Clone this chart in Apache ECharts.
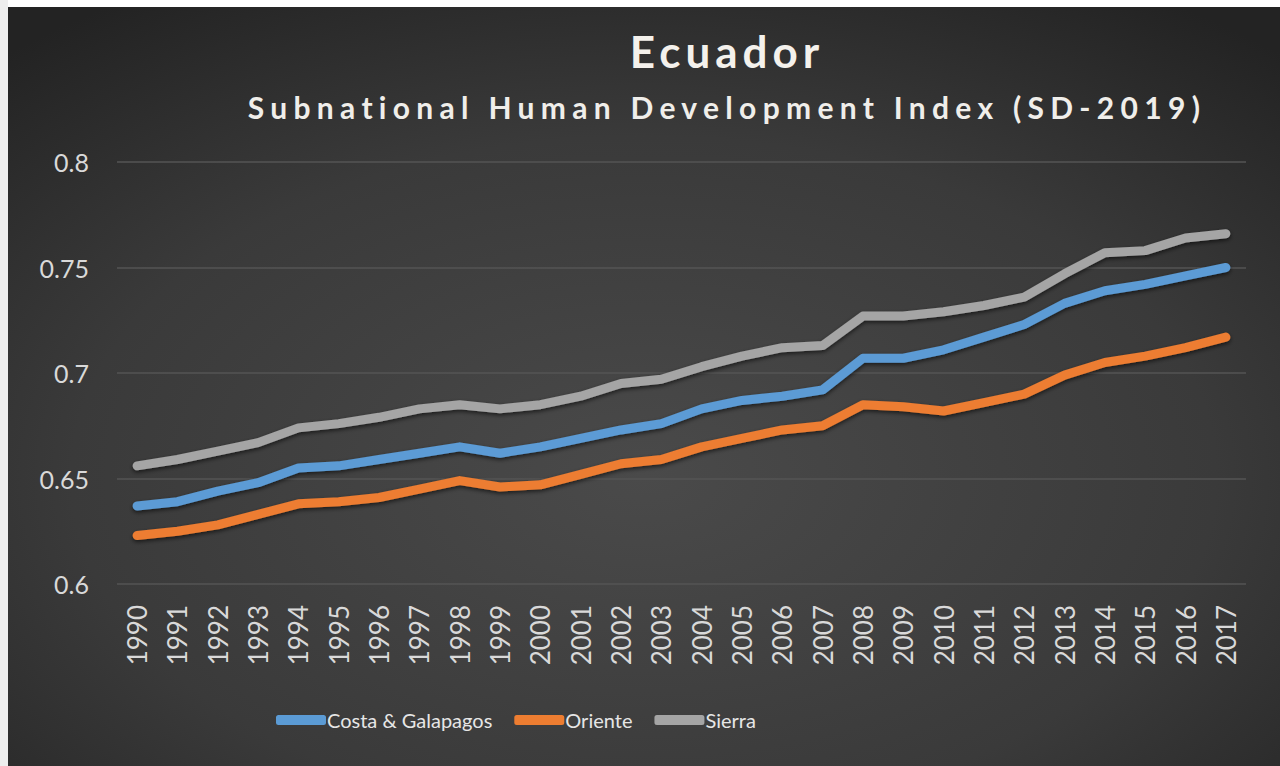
<!DOCTYPE html>
<html>
<head>
<meta charset="utf-8">
<script src="https://cdn.jsdelivr.net/npm/echarts@6/dist/echarts.min.js"></script>
<style>
  html, body { margin: 0; padding: 0; background: #ffffff; width: 1280px; height: 766px; overflow: hidden; }
  #strip { position: absolute; left: 0; top: 0; width: 8px; height: 766px; background: #eeeeee; }
  #chart { position: absolute; left: 8px; top: 7px; width: 1272px; height: 759px; }
</style>
</head>
<body>
<div id="strip"></div>
<div id="chart"></div>
<script>
const years = ['1990','1991','1992','1993','1994','1995','1996','1997','1998','1999','2000','2001','2002','2003','2004','2005','2006','2007','2008','2009','2010','2011','2012','2013','2014','2015','2016','2017'];
const costa = [0.637,0.639,0.644,0.648,0.655,0.656,0.659,0.662,0.665,0.662,0.665,0.669,0.673,0.676,0.683,0.687,0.689,0.692,0.707,0.707,0.711,0.717,0.723,0.733,0.739,0.742,0.746,0.750];
const oriente = [0.623,0.625,0.628,0.633,0.638,0.639,0.641,0.645,0.649,0.646,0.647,0.652,0.657,0.659,0.665,0.669,0.673,0.675,0.685,0.684,0.682,0.686,0.690,0.699,0.705,0.708,0.712,0.717];
const sierra = [0.656,0.659,0.663,0.667,0.674,0.676,0.679,0.683,0.685,0.683,0.685,0.689,0.695,0.697,0.703,0.708,0.712,0.713,0.727,0.727,0.729,0.732,0.736,0.747,0.757,0.758,0.764,0.766];
const seriesNames = ['Costa & Galapagos','Oriente','Sierra'];
const colors = ['#5b9bd5','#ed7d31','#a5a5a5'];
const titleText = 'Ecuador';
const subtitleText = 'Subnational Human Development Index (SD-2019)';

const chart = echarts.init(document.getElementById('chart'), null, { renderer: 'svg' });

function lineSeries(name, data, color) {
  return {
    name: name, type: 'line', data: data, symbol: 'none', smooth: false,
    lineStyle: { color: color, width: 9, cap: 'round', join: 'round',
      shadowColor: 'rgba(0,0,0,0.6)', shadowBlur: 4, shadowOffsetY: 2 },
    itemStyle: { color: color }
  };
}

const option = {
  animation: false,
  backgroundColor: {
    type: 'radial', x: 0.5, y: 0.62, r: 0.75,
    colorStops: [ { offset: 0, color: '#4a4a4a' }, { offset: 0.6, color: '#3a3a3a' }, { offset: 1, color: '#232323' } ]
  },
  graphic: [
    { type: 'text', x: 719, y: 22,
      style: { text: titleText, fill: '#f4f1ec', font: 'bold 44px Lato', align: 'center', verticalAlign: 'top',
        textAlign: 'center', textVerticalAlign: 'top',
        shadowColor: 'rgba(0,0,0,0.9)', shadowBlur: 3, shadowOffsetY: 1 } },
    { type: 'text', x: 719, y: 85,
      style: { text: subtitleText, fill: '#f0eeea', font: 'bold 30px Lato', align: 'center', verticalAlign: 'top',
        textAlign: 'center', textVerticalAlign: 'top',
        shadowColor: 'rgba(0,0,0,0.9)', shadowBlur: 3, shadowOffsetY: 1 } }
  ],
  grid: { left: 109, right: 34, top: 155, bottom: 182, containLabel: false },
  xAxis: {
    type: 'category', data: years, boundaryGap: true,
    axisLine: { show: false }, axisTick: { show: false },
    axisLabel: { rotate: 90, color: '#d9d9d9', fontSize: 26, fontFamily: 'Lato', margin: 21, interval: 0 }
  },
  yAxis: {
    type: 'value', min: 0.6, max: 0.8, interval: 0.05,
    axisLine: { show: false }, axisTick: { show: false },
    axisLabel: { color: '#d9d9d9', fontSize: 25, fontFamily: 'Lato', margin: 28 },
    splitLine: { lineStyle: { color: '#555555', width: 1.5 } }
  },
  legend: {
    left: 263, top: 698, icon: 'roundRect', itemWidth: 50, itemHeight: 10, itemGap: 22,
    textStyle: { color: '#e6e6e6', fontSize: 20, fontWeight: 'normal', fontFamily: 'Lato', padding: [0, 0, 0, -4] },
    data: seriesNames
  },
  series: [
    lineSeries(seriesNames[0], costa, colors[0]),
    lineSeries(seriesNames[1], oriente, colors[1]),
    lineSeries(seriesNames[2], sierra, colors[2])
  ]
};
chart.setOption(option);

function spaceTitles() {
  const texts = document.querySelectorAll('#chart text');
  texts.forEach(t => {
    if (t.textContent === titleText) t.setAttribute('letter-spacing', '5');
    if (t.textContent === subtitleText) t.setAttribute('letter-spacing', '6.3');
  });
}
spaceTitles();
chart.on('finished', spaceTitles);
</script>
</body>
</html>
